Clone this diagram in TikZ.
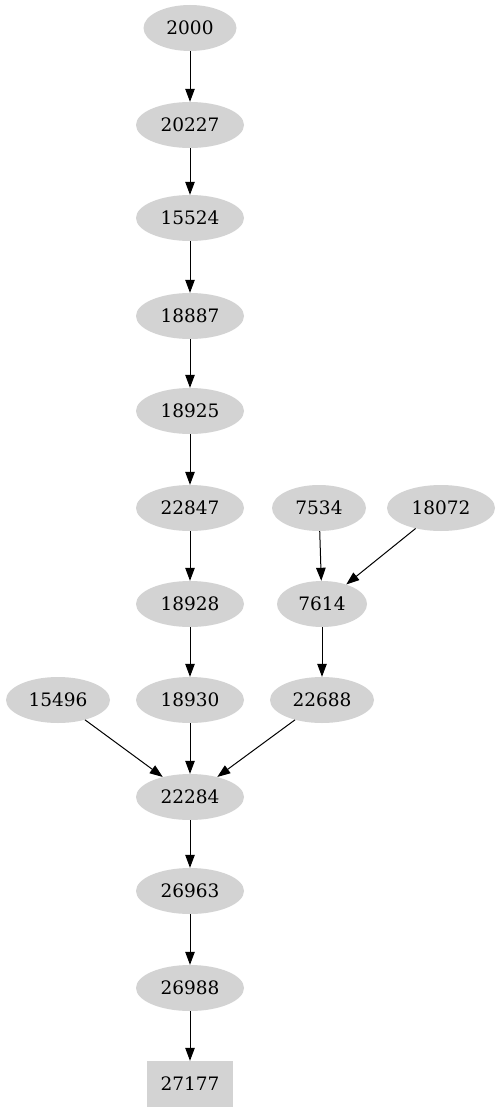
\documentclass[tikz,border=0pt]{standalone}
\usepackage{fontspec}
\setmainfont{DejaVu Serif}
\usetikzlibrary{shapes.geometric,arrows.meta}
\definecolor{ngray}{RGB}{211,211,211}
\tikzset{
  nd/.style={ellipse, fill=ngray, inner sep=0pt, minimum height=46pt, font=\fontsize{18.5}{20}\selectfont},
  bx/.style={rectangle, fill=ngray, inner sep=0pt, minimum width=86pt, minimum height=46pt, font=\fontsize{18.5}{20}\selectfont},
  ed/.style={draw=black, line width=1pt, -{Triangle[length=13pt,width=9.5pt]}}
}
\begin{document}
\begin{tikzpicture}[x=1pt,y=-1pt]
\useasboundingbox (0,0) rectangle (502,1115);
\node[nd, minimum width=93pt] (n2000) at (190,28) {2000};
\node[nd, minimum width=108pt] (n20227) at (190,125) {20227};
\node[nd, minimum width=108pt] (n15524) at (190,218) {15524};
\node[nd, minimum width=108pt] (n18887) at (190,316) {18887};
\node[nd, minimum width=108pt] (n18925) at (190,411) {18925};
\node[nd, minimum width=108pt] (n22847) at (190,508) {22847};
\node[nd, minimum width=108pt] (n18928) at (190,604) {18928};
\node[nd, minimum width=108pt] (n18930) at (190,700) {18930};
\node[nd, minimum width=104pt] (n15496) at (58,700) {15496};
\node[nd, minimum width=94pt] (n7534) at (319,508) {7534};
\node[nd, minimum width=108pt] (n18072) at (441,508) {18072};
\node[nd, minimum width=90pt] (n7614) at (322,604) {7614};
\node[nd, minimum width=104pt] (n22688) at (322,700) {22688};
\node[nd, minimum width=108pt] (n22284) at (190,797) {22284};
\node[nd, minimum width=108pt] (n26963) at (190,891) {26963};
\node[nd, minimum width=108pt] (n26988) at (190,988) {26988};
\node[bx] (n27177) at (190,1084) {27177};
\draw[ed] (n2000) -- (n20227);
\draw[ed] (n20227) -- (n15524);
\draw[ed] (n15524) -- (n18887);
\draw[ed] (n18887) -- (n18925);
\draw[ed] (n18925) -- (n22847);
\draw[ed] (n22847) -- (n18928);
\draw[ed] (n18928) -- (n18930);
\draw[ed] (n18930) -- (n22284);
\draw[ed] (n15496) -- (n22284);
\draw[ed] (n22688) -- (n22284);
\draw[ed] (n7534) -- (n7614);
\draw[ed] (n18072) -- (n7614);
\draw[ed] (n7614) -- (n22688);
\draw[ed] (n22284) -- (n26963);
\draw[ed] (n26963) -- (n26988);
\draw[ed] (n26988) -- (n27177);
\end{tikzpicture}
\end{document}
